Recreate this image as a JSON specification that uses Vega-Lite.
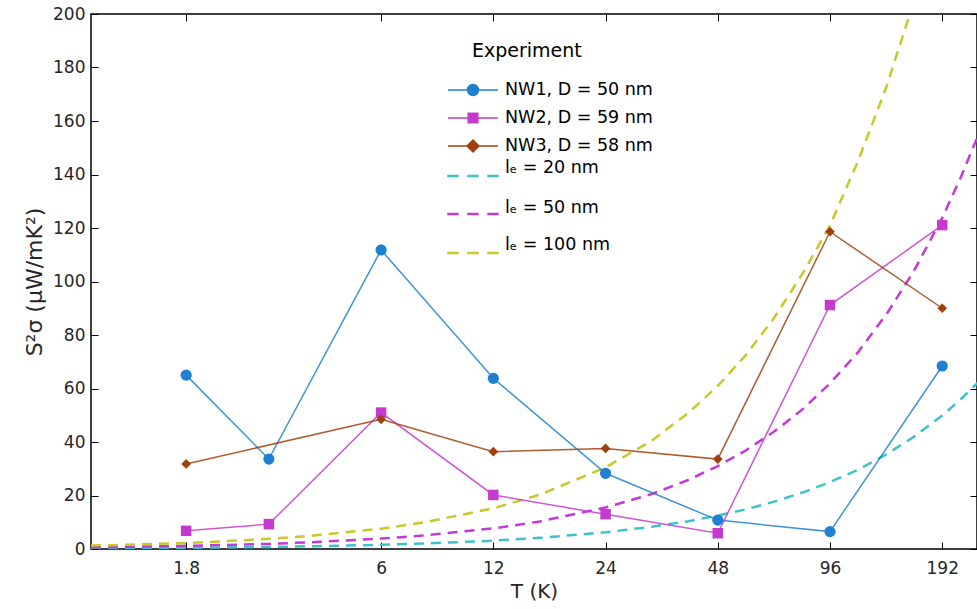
{
  "$schema": "https://vega.github.io/schema/vega-lite/v6.json",
  "width": 886,
  "height": 535,
  "autosize": {"type": "none"},
  "padding": {"left": 91, "top": 14, "right": 0, "bottom": 60},
  "background": "white",
  "config": {
    "font": "DejaVu Sans",
    "view": {"stroke": "#000", "strokeWidth": 1.5},
    "axis": {
      "grid": false,
      "domain": false,
      "tickColor": "#000",
      "tickSize": -7,
      "tickWidth": 1,
      "labelFont": "DejaVu Sans",
      "labelFontSize": 17,
      "labelColor": "#262626",
      "titleFont": "DejaVu Sans",
      "titleFontWeight": "normal",
      "titleColor": "#262626"
    }
  },
  "datasets": {
    "exp": [
      {"series": "NW1, D = 50 nm", "T": 1.8, "S": 65.0},
      {"series": "NW1, D = 50 nm", "T": 3, "S": 33.6},
      {"series": "NW1, D = 50 nm", "T": 6, "S": 111.8},
      {"series": "NW1, D = 50 nm", "T": 12, "S": 63.8},
      {"series": "NW1, D = 50 nm", "T": 24, "S": 28.3},
      {"series": "NW1, D = 50 nm", "T": 48, "S": 10.8},
      {"series": "NW1, D = 50 nm", "T": 96, "S": 6.5},
      {"series": "NW1, D = 50 nm", "T": 192, "S": 68.4},
      {"series": "NW2, D = 59 nm", "T": 1.8, "S": 6.8},
      {"series": "NW2, D = 59 nm", "T": 3, "S": 9.3},
      {"series": "NW2, D = 59 nm", "T": 6, "S": 51.0},
      {"series": "NW2, D = 59 nm", "T": 12, "S": 20.2},
      {"series": "NW2, D = 59 nm", "T": 24, "S": 13.0},
      {"series": "NW2, D = 59 nm", "T": 48, "S": 5.9},
      {"series": "NW2, D = 59 nm", "T": 96, "S": 91.2},
      {"series": "NW2, D = 59 nm", "T": 192, "S": 121.1},
      {"series": "NW3, D = 58 nm", "T": 1.8, "S": 31.8},
      {"series": "NW3, D = 58 nm", "T": 6, "S": 48.5},
      {"series": "NW3, D = 58 nm", "T": 12, "S": 36.4},
      {"series": "NW3, D = 58 nm", "T": 24, "S": 37.6},
      {"series": "NW3, D = 58 nm", "T": 48, "S": 33.6},
      {"series": "NW3, D = 58 nm", "T": 96, "S": 118.6},
      {"series": "NW3, D = 58 nm", "T": 192, "S": 90.0}
    ],
    "theory": [
      {"series": "lₑ = 20 nm", "T": 1, "S": 0.26},
      {"series": "lₑ = 20 nm", "T": 1.5, "S": 0.39},
      {"series": "lₑ = 20 nm", "T": 2, "S": 0.52},
      {"series": "lₑ = 20 nm", "T": 3, "S": 0.78},
      {"series": "lₑ = 20 nm", "T": 4, "S": 1.04},
      {"series": "lₑ = 20 nm", "T": 6, "S": 1.56},
      {"series": "lₑ = 20 nm", "T": 8, "S": 2.08},
      {"series": "lₑ = 20 nm", "T": 12, "S": 3.12},
      {"series": "lₑ = 20 nm", "T": 16, "S": 4.16},
      {"series": "lₑ = 20 nm", "T": 24, "S": 6.24},
      {"series": "lₑ = 20 nm", "T": 32, "S": 8.32},
      {"series": "lₑ = 20 nm", "T": 40, "S": 10.4},
      {"series": "lₑ = 20 nm", "T": 48, "S": 12.5},
      {"series": "lₑ = 20 nm", "T": 57, "S": 14.8},
      {"series": "lₑ = 20 nm", "T": 68, "S": 17.7},
      {"series": "lₑ = 20 nm", "T": 81, "S": 21.1},
      {"series": "lₑ = 20 nm", "T": 96, "S": 25.0},
      {"series": "lₑ = 20 nm", "T": 114, "S": 29.6},
      {"series": "lₑ = 20 nm", "T": 136, "S": 35.4},
      {"series": "lₑ = 20 nm", "T": 161, "S": 41.9},
      {"series": "lₑ = 20 nm", "T": 192, "S": 49.9},
      {"series": "lₑ = 20 nm", "T": 215, "S": 55.9},
      {"series": "lₑ = 20 nm", "T": 240, "S": 62.4},
      {"series": "lₑ = 50 nm", "T": 1, "S": 0.65},
      {"series": "lₑ = 50 nm", "T": 1.5, "S": 0.97},
      {"series": "lₑ = 50 nm", "T": 2, "S": 1.3},
      {"series": "lₑ = 50 nm", "T": 3, "S": 1.9},
      {"series": "lₑ = 50 nm", "T": 4, "S": 2.6},
      {"series": "lₑ = 50 nm", "T": 6, "S": 3.9},
      {"series": "lₑ = 50 nm", "T": 8, "S": 5.2},
      {"series": "lₑ = 50 nm", "T": 12, "S": 7.7},
      {"series": "lₑ = 50 nm", "T": 16, "S": 10.3},
      {"series": "lₑ = 50 nm", "T": 24, "S": 15.5},
      {"series": "lₑ = 50 nm", "T": 32, "S": 20.6},
      {"series": "lₑ = 50 nm", "T": 40, "S": 25.8},
      {"series": "lₑ = 50 nm", "T": 48, "S": 31.0},
      {"series": "lₑ = 50 nm", "T": 57, "S": 36.8},
      {"series": "lₑ = 50 nm", "T": 68, "S": 43.9},
      {"series": "lₑ = 50 nm", "T": 81, "S": 52.2},
      {"series": "lₑ = 50 nm", "T": 96, "S": 61.9},
      {"series": "lₑ = 50 nm", "T": 114, "S": 73.5},
      {"series": "lₑ = 50 nm", "T": 136, "S": 87.7},
      {"series": "lₑ = 50 nm", "T": 161, "S": 103.8},
      {"series": "lₑ = 50 nm", "T": 192, "S": 123.8},
      {"series": "lₑ = 50 nm", "T": 215, "S": 138.7},
      {"series": "lₑ = 50 nm", "T": 240, "S": 154.8},
      {"series": "lₑ = 100 nm", "T": 1, "S": 1.27},
      {"series": "lₑ = 100 nm", "T": 1.5, "S": 1.9},
      {"series": "lₑ = 100 nm", "T": 2, "S": 2.5},
      {"series": "lₑ = 100 nm", "T": 3, "S": 3.8},
      {"series": "lₑ = 100 nm", "T": 4, "S": 5.1},
      {"series": "lₑ = 100 nm", "T": 6, "S": 7.6},
      {"series": "lₑ = 100 nm", "T": 8, "S": 10.2},
      {"series": "lₑ = 100 nm", "T": 12, "S": 15.2},
      {"series": "lₑ = 100 nm", "T": 16, "S": 20.3},
      {"series": "lₑ = 100 nm", "T": 24, "S": 30.5},
      {"series": "lₑ = 100 nm", "T": 32, "S": 40.6},
      {"series": "lₑ = 100 nm", "T": 40, "S": 50.8},
      {"series": "lₑ = 100 nm", "T": 48, "S": 61.0},
      {"series": "lₑ = 100 nm", "T": 57, "S": 72.4},
      {"series": "lₑ = 100 nm", "T": 68, "S": 86.4},
      {"series": "lₑ = 100 nm", "T": 81, "S": 102.9},
      {"series": "lₑ = 100 nm", "T": 96, "S": 121.0},
      {"series": "lₑ = 100 nm", "T": 114, "S": 144.8},
      {"series": "lₑ = 100 nm", "T": 136, "S": 172.7},
      {"series": "lₑ = 100 nm", "T": 161, "S": 204.5}
    ]
  },
  "resolve": {"axis": {"x": "independent", "y": "independent"}},
  "layer": [
    {
      "data": {"name": "theory"},
      "mark": {"type": "line", "strokeDash": [10, 7], "strokeWidth": 2.5, "clip": true},
      "encoding": {
        "x": {
          "field": "T", "type": "quantitative",
          "scale": {"type": "log", "domain": [1, 238], "nice": false},
          "axis": {"orient": "bottom", "values": [1.8, 6, 12, 24, 48, 96, 192], "format": "~g", "labelFlush": false,
            "title": "T (K)", "titleFontSize": 20, "labelPadding": 18,
            "titleX": 443, "titleY": 48, "titleAlign": "center", "titleBaseline": "alphabetic"}
        },
        "y": {
          "field": "S", "type": "quantitative",
          "scale": {"domain": [0, 200], "nice": false},
          "axis": {"orient": "left", "values": [0, 20, 40, 60, 80, 100, 120, 140, 160, 180, 200],
            "title": "S²σ (μW/mK²)", "titleFontSize": 22, "labelPadding": 13,
            "titleX": -50, "titleY": 267.5, "titleAngle": -90, "titleAlign": "center", "titleBaseline": "alphabetic"}
        },
        "color": {
          "field": "series", "type": "nominal",
          "scale": {
            "domain": ["NW1, D = 50 nm", "NW2, D = 59 nm", "NW3, D = 58 nm", "lₑ = 20 nm", "lₑ = 50 nm", "lₑ = 100 nm"],
            "range": ["#1f80d0", "#c43acc", "#a0400c", "#3cc2c8", "#c43ad6", "#c8c828"]
          }
        }
      }
    },
    {
      "data": {"name": "exp"},
      "mark": {"type": "line", "strokeWidth": 1.5, "opacity": 0.85},
      "encoding": {
        "x": {"field": "T", "type": "quantitative",
          "axis": {"orient": "top", "values": [1.8, 6, 12, 24, 48, 96, 192], "labels": false, "title": null}},
        "y": {"field": "S", "type": "quantitative",
          "axis": {"orient": "right", "values": [0, 20, 40, 60, 80, 100, 120, 140, 160, 180, 200], "labels": false, "title": null}},
        "color": {
          "field": "series", "type": "nominal",
          "legend": {
            "orient": "none", "legendX": 371, "legendY": 28, "direction": "vertical",
            "title": "Experiment", "titleFont": "DejaVu Sans", "titleFontSize": 19, "titleFontWeight": "normal", "titleColor": "#000", "titlePadding": 18,
            "labelFont": "DejaVu Sans", "labelFontSize": 17.5, "labelColor": "#000", "labelOffset": 21, "labelLimit": 300,
            "symbolSize": 400, "symbolStrokeWidth": 1.5, "symbolOffset": 0, "rowPadding": 0, "padding": 0, "gridAlign": "each",
            "symbolType": "circle",
            "encoding": {
              "symbols": {
                "shape": {"value": {"expr": "datum.value === 'NW1, D = 50 nm' ? 'M0,-1.025M0,1.1M-2.5,0H2.5M0.55,0A0.55,0.55,0,1,1,-0.55,0A0.55,0.55,0,1,1,0.55,0Z' : datum.value === 'NW2, D = 59 nm' ? 'M0,-1.1M0,1.2M-2.5,0H2.5M-0.48,-0.48H0.48V0.48H-0.48Z' : datum.value === 'NW3, D = 58 nm' ? 'M0,-1.0M0,0.8M-2.5,0H2.5M-0.6,0L0,-0.6L0.6,0L0,0.6Z' : datum.value === 'lₑ = 20 nm' ? 'M0,-1.6M0,1.6M-2.5,-0.05H-1.5V0.05H-2.5ZM-0.5,-0.05H0.5V0.05H-0.5ZM1.5,-0.05H2.5V0.05H1.5Z' : datum.value === 'lₑ = 50 nm' ? 'M0,-1.6M0,1.6M-2.5,-0.05H-1.5V0.05H-2.5ZM-0.5,-0.05H0.5V0.05H-0.5ZM1.5,-0.05H2.5V0.05H1.5Z' : 'M0,-1.7M0,1.325M-2.5,-0.05H-1.5V0.05H-2.5ZM-0.5,-0.05H0.5V0.05H-0.5ZM1.5,-0.05H2.5V0.05H1.5Z'"}},
                "fill": {"value": {"expr": "scale('color', datum.value)"}},
                "stroke": {"value": {"expr": "scale('color', datum.value)"}},
                "strokeDash": {"value": []},
                "opacity": {"value": 1}
              },
              "labels": {
                "dy": {"value": {"expr": "datum.value === 'lₑ = 20 nm' ? -8 : datum.value === 'lₑ = 50 nm' ? -6 : datum.value === 'lₑ = 100 nm' ? -8 : 0"}}
              },
              "title": {"dx": {"value": 10}}
            }
          }
        }
      }
    },
    {
      "data": {"name": "exp"},
      "mark": {"type": "point", "filled": true, "opacity": 1},
      "encoding": {
        "x": {"field": "T", "type": "quantitative", "axis": null},
        "y": {"field": "S", "type": "quantitative", "axis": null},
        "color": {"field": "series", "type": "nominal"},
        "shape": {"field": "series", "type": "nominal",
          "scale": {"domain": ["NW1, D = 50 nm", "NW2, D = 59 nm", "NW3, D = 58 nm"], "range": ["circle", "square", "M-1,0L0,-1L1,0L0,1Z"]},
          "legend": null},
        "size": {"field": "series", "type": "nominal",
          "scale": {"domain": ["NW1, D = 50 nm", "NW2, D = 59 nm", "NW3, D = 58 nm"], "range": [125, 95, 180]},
          "legend": null}
      }
    }
  ]
}
